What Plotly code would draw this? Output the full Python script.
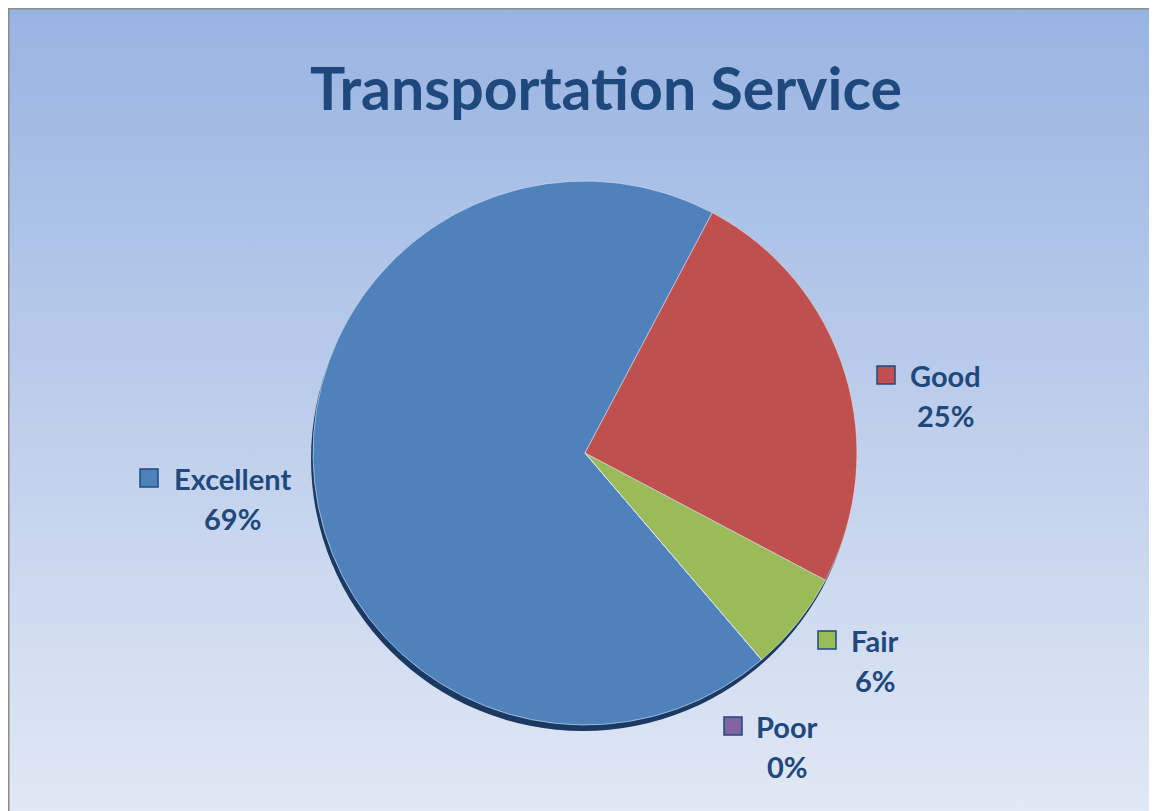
import base64
import plotly.graph_objects as go

# page has an 8px body margin, so the figure starts at page pixel (8, 8)
OFF = 8
W, H = 1157 - OFF, 811 - OFF

# ---- data ----
categories = ["Excellent", "Good", "Fair", "Poor"]
values = [69, 25, 6, 0]
colors = ["#4F81BD", "#C0504D", "#9BBB59", "#8064A2"]
title_text = "Transportation Service"

TEXT = "#1F497D"
FONT = "Lato"

def px(x):
    return (x - OFF) / W

def py(y):
    return 1 - (y - OFF) / H

# gradient background as an inline SVG image
svg = (
    f'<svg xmlns="http://www.w3.org/2000/svg" width="{W}" height="{H}">'
    '<defs><linearGradient id="g" x1="0" y1="0" x2="0" y2="1">'
    '<stop offset="0" stop-color="#99B4E2"/><stop offset="1" stop-color="#E1E8F5"/>'
    '</linearGradient></defs>'
    f'<rect x="0" y="0" width="{W}" height="{H}" fill="url(#g)"/></svg>'
)
src = "data:image/svg+xml;base64," + base64.b64encode(svg.encode()).decode()
images = [dict(source=src, xref="paper", yref="paper", x=0, y=1, sizex=1, sizey=1,
               xanchor="left", yanchor="top", sizing="stretch", layer="below")]

shapes = []
# frame lines (top and left)
shapes.append(dict(type="line", xref="paper", yref="paper",
                   x0=0, x1=1, y0=1, y1=1, line=dict(color="#8C8C8C", width=3)))
shapes.append(dict(type="line", xref="paper", yref="paper",
                   x0=0, x1=0, y0=0, y1=1, line=dict(color="#8C8C8C", width=3)))

# pie geometry (page pixels)
cx, cy, r = 585, 453, 272
rotation = 139.5

fig = go.Figure()
# shadow / depth
sdx, sdy = -2, 6
fig.add_trace(go.Pie(
    values=[1], labels=["shadow"], sort=False, hoverinfo="skip", textinfo="none",
    marker=dict(colors=["#1B3A63"], line=dict(width=0)), showlegend=False,
    domain=dict(x=[px(cx + sdx - r), px(cx + sdx + r)], y=[py(cy + sdy + r), py(cy + sdy - r)]),
))
fig.add_trace(go.Pie(
    values=values, labels=categories, sort=False, direction="clockwise", rotation=rotation,
    textinfo="none", showlegend=False,
    marker=dict(colors=colors, line=dict(color="rgba(220,230,245,0.6)", width=1)),
    domain=dict(x=[px(cx - r), px(cx + r)], y=[py(cy + r), py(cy - r)]),
))

# data label layout (page pixels): name center x, name center y, key square left x
label_pos = {
    "Excellent": (232, 478, 140),
    "Good": (945, 375, 877),
    "Fair": (875, 640, 818),
    "Poor": (787, 726, 724),
}
total = sum(values)
annotations = []
lab_size = 29
for cat, v, col in zip(categories, values, colors):
    x, y, sq = label_pos[cat]
    pct = f"{round(100 * v / total)}%"
    annotations.append(dict(x=px(x), y=py(y), xref="paper", yref="paper", text=cat,
                            showarrow=False, xanchor="center", yanchor="middle",
                            font=dict(family=FONT, size=lab_size, color=TEXT, weight="bold")))
    annotations.append(dict(x=px(x), y=py(y + 40), xref="paper", yref="paper", text=pct,
                            showarrow=False, xanchor="center", yanchor="middle",
                            font=dict(family=FONT, size=lab_size, color=TEXT, weight="bold")))
    shapes.append(dict(type="rect", xref="paper", yref="paper",
                       x0=px(sq), x1=px(sq + 18), y0=py(y + 9), y1=py(y - 9),
                       fillcolor=col, line=dict(color=TEXT, width=1.5)))

annotations.append(dict(x=px(606), y=py(88), xref="paper", yref="paper", text=title_text,
                        showarrow=False, xanchor="center", yanchor="middle",
                        font=dict(family=FONT, size=59, color=TEXT, weight="bold")))

fig.update_layout(
    width=W, height=H, margin=dict(l=0, r=0, t=0, b=0),
    paper_bgcolor="white", plot_bgcolor="white",
    shapes=shapes, annotations=annotations, images=images, showlegend=False,
)
fig.write_html("out.html")
